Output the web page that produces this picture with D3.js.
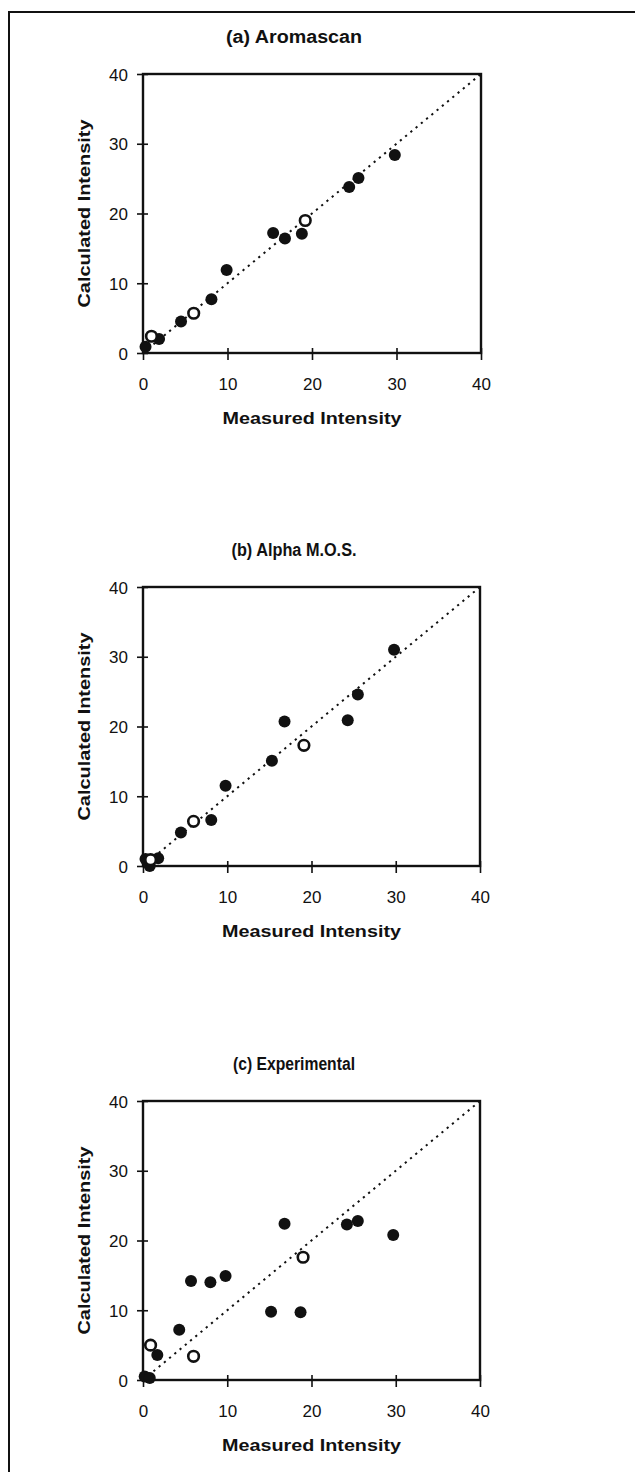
<!DOCTYPE html>
<html>
<head>
<meta charset="utf-8">
<script src="https://cdn.jsdelivr.net/npm/d3@7"></script>
<style>
  html, body { margin: 0; padding: 0; background: #fff; }
  svg { display: block; }
  text { font-family: "Liberation Sans", Arial, sans-serif; fill: #111; }
</style>
</head>
<body>
<svg id="chart" width="635" height="1472"></svg>
<script>
// ---- data ----
const tickValues = [0, 10, 20, 30, 40];
const panelTitles = ["(a) Aromascan", "(b) Alpha M.O.S.", "(c) Experimental"];
const xAxisTitle = "Measured Intensity";
const yAxisTitle = "Calculated Intensity";

// (a) Aromascan
const aFilledMeasured   = [0.3, 1.9, 4.5, 8.1, 9.9, 15.4, 16.8, 18.8, 24.4, 25.5, 29.8];
const aFilledCalculated = [0.9, 2.0, 4.5, 7.7, 11.9, 17.2, 16.4, 17.1, 23.8, 25.1, 28.4];
const aOpenMeasured     = [1.0, 6.0, 19.2];
const aOpenCalculated   = [2.4, 5.7, 19.0];

// (b) Alpha M.O.S.
const bFilledMeasured   = [0.3, 0.8, 1.8, 4.5, 8.1, 9.8, 15.3, 16.8, 24.3, 25.5, 29.8];
const bFilledCalculated = [1.0, 0.0, 1.1, 4.8, 6.6, 11.5, 15.1, 20.7, 20.9, 24.6, 31.0];
const bOpenMeasured     = [0.9, 6.0, 19.1];
const bOpenCalculated   = [0.9, 6.4, 17.3];

// (c) Experimental
const cFilledMeasured   = [0.2, 0.8, 1.7, 4.3, 5.7, 8.0, 9.8, 15.2, 16.8, 18.7, 24.2, 25.5, 29.7];
const cFilledCalculated = [0.5, 0.3, 3.6, 7.2, 14.2, 14.0, 14.9, 9.8, 22.4, 9.7, 22.3, 22.8, 20.8];
const cOpenMeasured     = [0.9, 6.0, 19.0];
const cOpenCalculated   = [5.0, 3.4, 17.6];

// ---- layout ----
const svg = d3.select("#chart");

// outer frame (cropped at right/bottom)
svg.append("rect")
  .attr("x", 9).attr("y", 12).attr("width", 1000).attr("height", 2000)
  .attr("fill", "none").attr("stroke", "#111").attr("stroke-width", 2);

const panels = [
  { title: panelTitles[0], top: 74,   left: 143, right: 481,
    fx: aFilledMeasured, fy: aFilledCalculated, ox: aOpenMeasured, oy: aOpenCalculated },
  { title: panelTitles[1], top: 587,  left: 143, right: 480,
    fx: bFilledMeasured, fy: bFilledCalculated, ox: bOpenMeasured, oy: bOpenCalculated },
  { title: panelTitles[2], top: 1101, left: 143, right: 480,
    fx: cFilledMeasured, fy: cFilledCalculated, ox: cOpenMeasured, oy: cOpenCalculated }
];
const plotH = 279;
const titleLens = [136, 125, 122];

panels.forEach((p, i) => {
  const bottom = p.top + plotH;
  const x = d3.scaleLinear().domain([0, 40]).range([p.left, p.right]);
  const y = d3.scaleLinear().domain([0, 40]).range([bottom, p.top]);
  const g = svg.append("g");

  // title
  g.append("text")
    .attr("x", 294).attr("y", p.top - 31)
    .attr("text-anchor", "middle")
    .attr("font-size", 18).attr("font-weight", "bold")
    .attr("textLength", titleLens[i]).attr("lengthAdjust", "spacingAndGlyphs")
    .text(p.title);

  // frame
  g.append("rect")
    .attr("x", p.left).attr("y", p.top)
    .attr("width", p.right - p.left).attr("height", plotH)
    .attr("fill", "none").attr("stroke", "#111").attr("stroke-width", 2.4);

  // x axis ticks + labels
  const xAx = d3.axisBottom(x).tickValues(tickValues).tickSize(7).tickFormat(d3.format("d"));
  const xg = g.append("g").attr("transform", `translate(0,${bottom - 5})`).call(xAx);
  xg.select(".domain").remove();
  xg.selectAll("line").attr("stroke", "#111").attr("stroke-width", 1.6).attr("y1", 0).attr("y2", 12);
  xg.selectAll("text").attr("y", 42).attr("dy", 0)
    .attr("font-size", 17).attr("fill", "#111")
    .attr("font-family", "Liberation Sans, Arial, sans-serif");

  // y axis ticks + labels
  const yAx = d3.axisLeft(y).tickValues(tickValues).tickSize(6).tickFormat(d3.format("d"));
  const yg = g.append("g").attr("transform", `translate(${p.left + 5},0)`).call(yAx);
  yg.select(".domain").remove();
  yg.selectAll("line").attr("stroke", "#111").attr("stroke-width", 1.6).attr("x1", 0).attr("x2", -11);
  yg.selectAll("text").attr("x", -20).attr("dy", "0.36em")
    .attr("font-size", 17).attr("fill", "#111")
    .attr("font-family", "Liberation Sans, Arial, sans-serif");

  // axis titles
  g.append("text")
    .attr("x", (p.left + p.right) / 2).attr("y", bottom + 71)
    .attr("text-anchor", "middle")
    .attr("font-size", 17).attr("font-weight", "bold")
    .attr("textLength", 179).attr("lengthAdjust", "spacingAndGlyphs")
    .text(xAxisTitle);

  g.append("text")
    .attr("transform", `translate(90,${(p.top + bottom) / 2}) rotate(-90)`)
    .attr("text-anchor", "middle")
    .attr("font-size", 17).attr("font-weight", "bold")
    .attr("textLength", 188).attr("lengthAdjust", "spacingAndGlyphs")
    .text(yAxisTitle);

  // 1:1 dotted line
  g.append("line")
    .attr("x1", x(0)).attr("y1", y(0)).attr("x2", x(40)).attr("y2", y(40))
    .attr("stroke", "#111").attr("stroke-width", 2)
    .attr("stroke-dasharray", "2.2,4.6");

  // filled points
  const filled = p.fx.map((v, k) => [v, p.fy[k]]);
  g.selectAll("circle.filled").data(filled).enter().append("circle")
    .attr("class", "filled")
    .attr("cx", d => x(d[0])).attr("cy", d => y(d[1]))
    .attr("r", 6).attr("fill", "#111");

  // open points
  const open = p.ox.map((v, k) => [v, p.oy[k]]);
  g.selectAll("circle.open").data(open).enter().append("circle")
    .attr("class", "open")
    .attr("cx", d => x(d[0])).attr("cy", d => y(d[1]))
    .attr("r", 5.3).attr("fill", "#fff")
    .attr("stroke", "#111").attr("stroke-width", 2.6);
});
</script>
</body>
</html>
